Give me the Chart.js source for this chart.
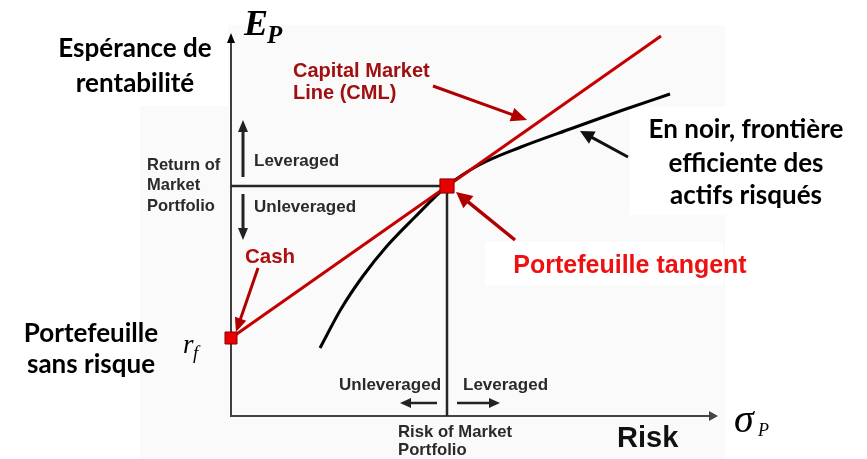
<!DOCTYPE html>
<html>
<head>
<meta charset="utf-8">
<script src="https://cdn.jsdelivr.net/npm/chart.js@4.4.0/dist/chart.umd.min.js"></script>
<style>
  body { margin: 0; background: #fff; }
  #wrap { width: 867px; height: 459px; }
</style>
</head>
<body>
<div id="wrap"><canvas id="cml"></canvas></div>
<script>
// risk (sigma_P) on x, expected return (E_P) on y, arbitrary % units
const riskFree = 3.9
const marketRisk = 10.8
const marketReturn = 11.5

// capital market line, from the risk-free asset up through the market portfolio
const cmlRisk = [0, 21.5]
const cmlReturn = [3.9, 19.0]

// efficient frontier of the risky assets
const frontierRisk = [4.45, 5.5, 6.6, 7.8, 9.2, 10.8, 12.4, 14.5, 17.1, 19.6, 21.95]
const frontierReturn = [3.4, 5.35, 7.0, 8.5, 9.95, 11.5, 12.55, 13.45, 14.4, 15.3, 16.1]

const xMax = 24
const yMax = 19.2

const toPoints = (xs, ys) => xs.map((x, i) => ({ x: x, y: ys[i] }))

// callout arrows, in data units: [fromX, fromY, toX, toY, colour, width, head length, head half-width]
const callouts = [
    [10.1, 16.5, 14.8, 14.8, "#b00000", 3, 16, 7],   // Capital Market Line
    [1.35, 7.4, 0.25, 4.2, "#b00000", 3, 14, 6],     // Cash
    [14.2, 8.8, 11.25, 11.2, "#b00000", 3.5, 16, 8], // tangent portfolio
    [19.85, 12.95, 17.45, 14.25, "#111", 3, 14, 7],  // frontier
    [0.6, 11.95, 0.6, 14.8, "#222", 3, 12, 5],       // leveraged (up)
    [0.6, 11.1, 0.6, 8.8, "#222", 3, 12, 5],         // unleveraged (down)
    [10.3, 0.65, 8.45, 0.65, "#222", 2.5, 11, 5],    // unleveraged (left)
    [11.3, 0.65, 13.45, 0.65, "#222", 2.5, 11, 5]    // leveraged (right)
]

const CAL = "Lato, 'Noto Sans', sans-serif"
const ARIAL = "'Liberation Sans', Arial, sans-serif"
const SERIF = "'Liberation Serif', 'DejaVu Serif', serif"

// [text, x, y, font, colour, align]
const labels = [
    ["Espérance de", 135, 57, "bold 26px " + CAL, "#000", "center"],
    ["rentabilité", 135, 92, "bold 26px " + CAL, "#000", "center"],
    ["Portefeuille", 91, 342, "bold 26px " + CAL, "#000", "center"],
    ["sans risque", 91, 373, "bold 26px " + CAL, "#000", "center"],
    ["En noir, frontière", 746, 138, "bold 26px " + CAL, "#000", "center"],
    ["efficiente des", 746, 172, "bold 26px " + CAL, "#000", "center"],
    ["actifs risqués", 746, 204, "bold 26px " + CAL, "#000", "center"],
    ["Portefeuille tangent", 630, 273, "bold 25px " + ARIAL, "#ee1111", "center"],
    ["Capital Market", 293, 77, "bold 20px " + ARIAL, "#a01010", "left"],
    ["Line (CML)", 293, 99, "bold 20px " + ARIAL, "#a01010", "left"],
    ["Cash", 245, 263, "bold 20.5px " + ARIAL, "#b01010", "left"],
    ["Return of", 147, 170, "bold 16.5px " + ARIAL, "#2a2a2a", "left"],
    ["Market", 147, 190, "bold 16.5px " + ARIAL, "#2a2a2a", "left"],
    ["Portfolio", 147, 211, "bold 16.5px " + ARIAL, "#2a2a2a", "left"],
    ["Leveraged", 254, 166, "bold 17px " + ARIAL, "#2a2a2a", "left"],
    ["Unleveraged", 254, 212, "bold 17px " + ARIAL, "#2a2a2a", "left"],
    ["Unleveraged", 339, 390, "bold 17px " + ARIAL, "#2a2a2a", "left"],
    ["Leveraged", 463, 390, "bold 17px " + ARIAL, "#2a2a2a", "left"],
    ["Risk of Market", 398, 437, "bold 16.7px " + ARIAL, "#2a2a2a", "left"],
    ["Portfolio", 398, 455, "bold 16.7px " + ARIAL, "#2a2a2a", "left"],
    ["Risk", 617, 447, "bold 29px " + ARIAL, "#111", "left"],
    ["E", 244, 35, "bold italic 36px " + SERIF, "#000", "left"],
    ["P", 267, 43, "bold italic 25px " + SERIF, "#000", "left"],
    ["σ", 734, 432, "italic 40px " + SERIF, "#000", "left"],
    ["P", 758, 436, "italic 18px " + SERIF, "#000", "left"],
    ["r", 183, 353, "italic 27px " + SERIF, "#000", "left"],
    ["f", 193, 359, "italic 19px " + SERIF, "#000", "left"]
]

function drawArrow(ctx, x1, y1, x2, y2, color, width, headLen, headW) {
    const a = Math.atan2(y2 - y1, x2 - x1)
    ctx.save()
    ctx.strokeStyle = color
    ctx.fillStyle = color
    ctx.lineWidth = width
    ctx.beginPath()
    ctx.moveTo(x1, y1)
    ctx.lineTo(x2 - Math.cos(a) * headLen * 0.7, y2 - Math.sin(a) * headLen * 0.7)
    ctx.stroke()
    ctx.translate(x2, y2)
    ctx.rotate(a)
    ctx.beginPath()
    ctx.moveTo(0, 0)
    ctx.lineTo(-headLen, -headW)
    ctx.lineTo(-headLen, headW)
    ctx.closePath()
    ctx.fill()
    ctx.restore()
}

const diagramPlugin = {
    id: "diagram",
    beforeDraw(chart) {
        const ctx = chart.ctx
        ctx.save()
        // the pasted diagram sits on a barely grey panel
        ctx.fillStyle = "#fafafa"
        ctx.fillRect(228, 25, 497, 434)
        ctx.fillRect(140, 106, 88, 353)
        ctx.fillStyle = "#fff"
        ctx.fillRect(630, 107, 237, 108)
        ctx.fillRect(485, 242, 238, 43)
        ctx.restore()
    },
    beforeDatasetsDraw(chart) {
        const ctx = chart.ctx
        const area = chart.chartArea
        const x0 = chart.scales.x.getPixelForValue(0)
        const y0 = chart.scales.y.getPixelForValue(0)
        drawArrow(ctx, x0, y0 + 1, x0, area.top + 1, "#000", 1.5, 10, 4)
        drawArrow(ctx, x0, y0, area.right + 7, y0, "#444", 2, 9, 5)
    },
    afterDatasetsDraw(chart) {
        const ctx = chart.ctx
        const sx = chart.scales.x
        const sy = chart.scales.y
        callouts.forEach(c => {
            drawArrow(ctx, sx.getPixelForValue(c[0]), sy.getPixelForValue(c[1]),
                sx.getPixelForValue(c[2]), sy.getPixelForValue(c[3]), c[4], c[5], c[6], c[7])
        })
        ctx.save()
        ctx.textBaseline = "alphabetic"
        labels.forEach(l => {
            ctx.font = l[3]
            ctx.fillStyle = l[4]
            ctx.textAlign = l[5]
            ctx.fillText(l[0], l[1], l[2])
        })
        ctx.restore()
    }
}

new Chart("cml", {
    type: "scatter",
    data: {
        datasets: [
            {
                // risk-free asset and market (tangent) portfolio
                data: [{ x: 0, y: riskFree }, { x: marketRisk, y: marketReturn }],
                pointStyle: "rect",
                pointRadius: [8.5, 10],
                backgroundColor: "#e80000",
                borderColor: "#8a0000",
                borderWidth: 1,
                showLine: false,
                clip: false
            },
            {
                data: toPoints(cmlRisk, cmlReturn),
                showLine: true,
                borderColor: "#c40000",
                borderWidth: 3,
                pointRadius: 0,
                clip: false
            },
            {
                data: toPoints(frontierRisk, frontierReturn),
                showLine: true,
                borderColor: "#000",
                borderWidth: 3,
                cubicInterpolationMode: "monotone",
                pointRadius: 0,
                clip: false
            },
            {
                // guides from the market portfolio to both axes
                data: [{ x: 0, y: marketReturn }, { x: marketRisk, y: marketReturn }, { x: marketRisk, y: 0 }],
                showLine: true,
                borderColor: "#262626",
                borderWidth: 2.5,
                pointRadius: 0,
                clip: false
            }
        ]
    },
    options: {
        responsive: true,
        maintainAspectRatio: false,
        devicePixelRatio: 1,
        animation: false,
        layout: { padding: { left: 231, right: 156, top: 32, bottom: 43 } },
        scales: {
            x: { type: "linear", min: 0, max: xMax, display: false },
            y: { type: "linear", min: 0, max: yMax, display: false }
        },
        plugins: {
            legend: { display: false },
            tooltip: { enabled: false }
        }
    },
    plugins: [diagramPlugin]
})
</script>
</body>
</html>
